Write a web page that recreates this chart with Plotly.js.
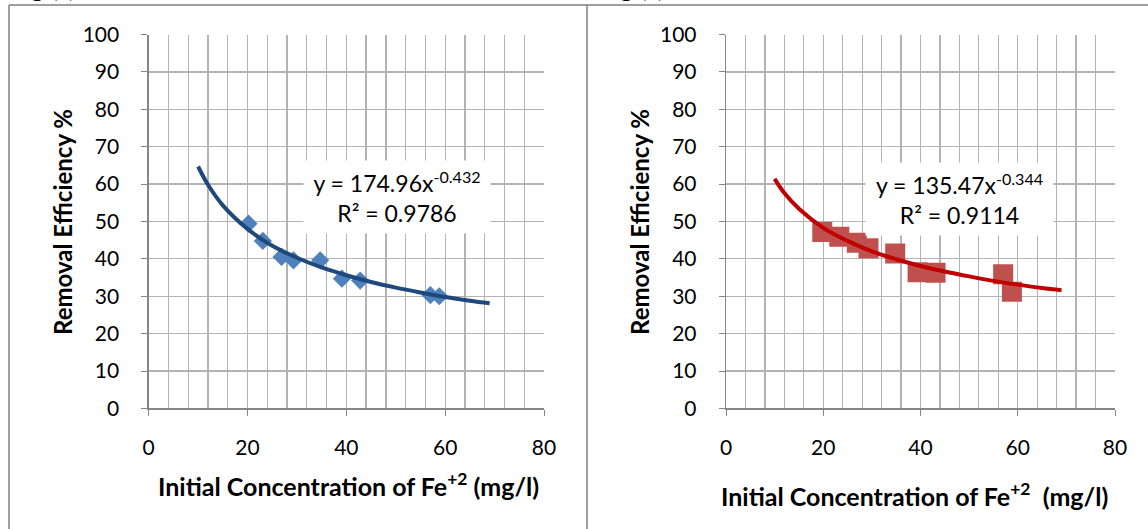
<!DOCTYPE html>
<html><head><meta charset="utf-8">
<script src="https://cdn.plot.ly/plotly-3.0.1.min.js"></script>
<style>html,body{margin:0;padding:0;background:#fff;} #chart{width:1148px;height:529px;}</style>
</head><body><div id="chart"></div>
<script>
// ---- data ----
const leftConc  = [20.2, 23.1, 26.9, 29.3, 34.7, 39.1, 42.8, 57.0, 58.8];
const leftEff   = [49.4, 44.8, 40.5, 39.6, 39.6, 34.7, 34.2, 30.3, 30.0];
const rightConc = [19.8, 23.3, 26.9, 29.3, 34.8, 39.4, 43.1, 57.0, 58.8];
const rightEff  = [47.2, 45.9, 44.3, 42.8, 41.4, 36.4, 36.3, 35.9, 31.2];
const trendConc   = [10, 12, 15, 20, 25, 30, 35, 40, 45, 50, 55, 60, 65, 69];
const leftTrend   = [64.7, 59.8, 54.3, 48.0, 43.5, 40.3, 37.7, 35.6, 33.8, 32.3, 31.0, 29.8, 28.8, 28.1];
const rightTrend  = [61.4, 57.6, 53.4, 48.3, 44.8, 42.0, 39.9, 38.1, 36.6, 35.3, 34.1, 33.1, 32.2, 31.6];
const xTickVals = [0, 20, 40, 60, 80];
const yTickVals = [0, 10, 20, 30, 40, 50, 60, 70, 80, 90, 100];
const yTitle = 'Removal Efficiency %';
const xTitleLeft = 'Initial Concentration of Fe<sup>+2</sup> (mg/l)';
const xTitleRight = 'Initial Concentration of Fe<sup>+2</sup>  (mg/l)';
const eqLeft = 'y = 174.96x<sup>-0.432</sup><br>R² = 0.9786';
const eqRight = 'y = 135.47x<sup>-0.344</sup><br>R² = 0.9114';

const W = 1148, H = 529;
const px = v => v / W;
const py = v => 1 - v / H;
const FONT = 'Lato, "Open Sans", sans-serif';
const gridC = '#b3b3b3', axisC = '#868686';

function xAxis(d0, d1, anchor) {
  return {
    domain: [px(d0), px(d1)], anchor: anchor, range: [0, 80],
    tickvals: xTickVals, ticks: 'outside', ticklen: 6, tickcolor: axisC, tickwidth: 1,
    showline: true, linecolor: axisC, linewidth: 1.3,
    showgrid: true, gridcolor: gridC, gridwidth: 1.3, zeroline: false,
    minor: {dtick: 4, showgrid: true, gridcolor: gridC, gridwidth: 1.3, ticks: ''},
    tickfont: {family: FONT, size: 21, color: '#000'}, ticklabelstandoff: 14,
    fixedrange: true
  };
}
function yAxis(d0, d1, anchor) {
  return {
    domain: [py(d1), py(d0)], anchor: anchor, range: [0, 100],
    tickvals: yTickVals, ticks: 'outside', ticklen: 6, tickcolor: axisC, tickwidth: 1,
    showline: true, linecolor: axisC, linewidth: 1.3,
    showgrid: true, gridcolor: gridC, gridwidth: 1.3, zeroline: false,
    tickfont: {family: FONT, size: 21, color: '#000'}, ticklabelstandoff: 18,
    fixedrange: true
  };
}

const traces = [
  {x: leftConc, y: leftEff, xaxis: 'x', yaxis: 'y', type: 'scatter', mode: 'markers',
   marker: {symbol: 'diamond', size: 14, color: '#4f81bd', line: {width: 0}}, hoverinfo: 'skip'},
  {x: trendConc, y: leftTrend, xaxis: 'x', yaxis: 'y', type: 'scatter', mode: 'lines',
   line: {color: '#1f497d', width: 4, shape: 'spline'}, hoverinfo: 'skip'},
  {x: rightConc, y: rightEff, xaxis: 'x2', yaxis: 'y2', type: 'scatter', mode: 'markers',
   marker: {symbol: 'square', size: 20, color: '#c0504d', line: {width: 0}}, hoverinfo: 'skip'},
  {x: trendConc, y: rightTrend, xaxis: 'x2', yaxis: 'y2', type: 'scatter', mode: 'lines',
   line: {color: '#c00000', width: 4, shape: 'spline'}, hoverinfo: 'skip'}
];

const lineC = '#7f7f7f';
const yTitleFont = {family: FONT, size: 24, color: '#000', weight: 'bold'};
const xTitleFont = {family: FONT, size: 25, color: '#000', weight: 'bold'};
const capFont = {family: '"Liberation Serif", serif', size: 24, color: '#000', weight: 'bold'};
const eqFont = {family: FONT, size: 23, color: '#000'};
const layout = {
  width: W, height: H, margin: {l: 0, r: 0, t: 0, b: 0},
  paper_bgcolor: '#fff', plot_bgcolor: '#fff', showlegend: false,
  xaxis: xAxis(148.7, 544, 'y'),
  yaxis: yAxis(34.5, 408.4, 'x'),
  xaxis2: xAxis(726, 1115, 'y2'),
  yaxis2: yAxis(34.5, 408.4, 'x2'),
  shapes: [
    {type: 'line', xref: 'paper', yref: 'paper', x0: px(9), x1: 1, y0: py(5), y1: py(5), line: {color: lineC, width: 1.5}},
    {type: 'line', xref: 'paper', yref: 'paper', x0: px(9), x1: px(9), y0: py(5), y1: 0, line: {color: lineC, width: 1.5}},
    {type: 'line', xref: 'paper', yref: 'paper', x0: px(587), x1: px(587), y0: py(5), y1: 0, line: {color: lineC, width: 1.5}}
  ],
  annotations: [
    {text: eqLeft, xref: 'x', yref: 'y', x: 50.3, y: 56.5, xanchor: 'center', yanchor: 'middle', showarrow: false, bgcolor: '#fff',
     width: 186, height: 72, borderpad: 0, align: 'center', font: eqFont},
    {text: eqRight, xref: 'x2', yref: 'y2', x: 48.1, y: 55.9, xanchor: 'center', yanchor: 'middle', showarrow: false, bgcolor: '#fff',
     width: 187, height: 72, borderpad: 0, align: 'center', font: eqFont},
    {text: yTitle, xref: 'paper', yref: 'paper', x: px(62), y: py(222), xanchor: 'center', yanchor: 'middle', textangle: -90, showarrow: false, font: yTitleFont},
    {text: yTitle, xref: 'paper', yref: 'paper', x: px(639), y: py(222), xanchor: 'center', yanchor: 'middle', textangle: -90, showarrow: false, font: yTitleFont},
    {text: xTitleLeft, xref: 'paper', yref: 'paper', x: px(348), y: py(484), xanchor: 'center', yanchor: 'middle', showarrow: false, font: xTitleFont},
    {text: xTitleRight, xref: 'paper', yref: 'paper', x: px(914), y: py(494), xanchor: 'center', yanchor: 'middle', showarrow: false, font: xTitleFont},
    {text: 'Fig (1)', xref: 'paper', yref: 'paper', x: px(9), y: py(2), xanchor: 'left', yanchor: 'bottom', borderpad: 0, showarrow: false, font: capFont},
    {text: 'Fig (2)', xref: 'paper', yref: 'paper', x: px(598), y: py(2), xanchor: 'left', yanchor: 'bottom', borderpad: 0, showarrow: false, font: capFont}
  ]
};

Plotly.newPlot('chart', traces, layout, {displayModeBar: false, staticPlot: true});
</script>
</body></html>
